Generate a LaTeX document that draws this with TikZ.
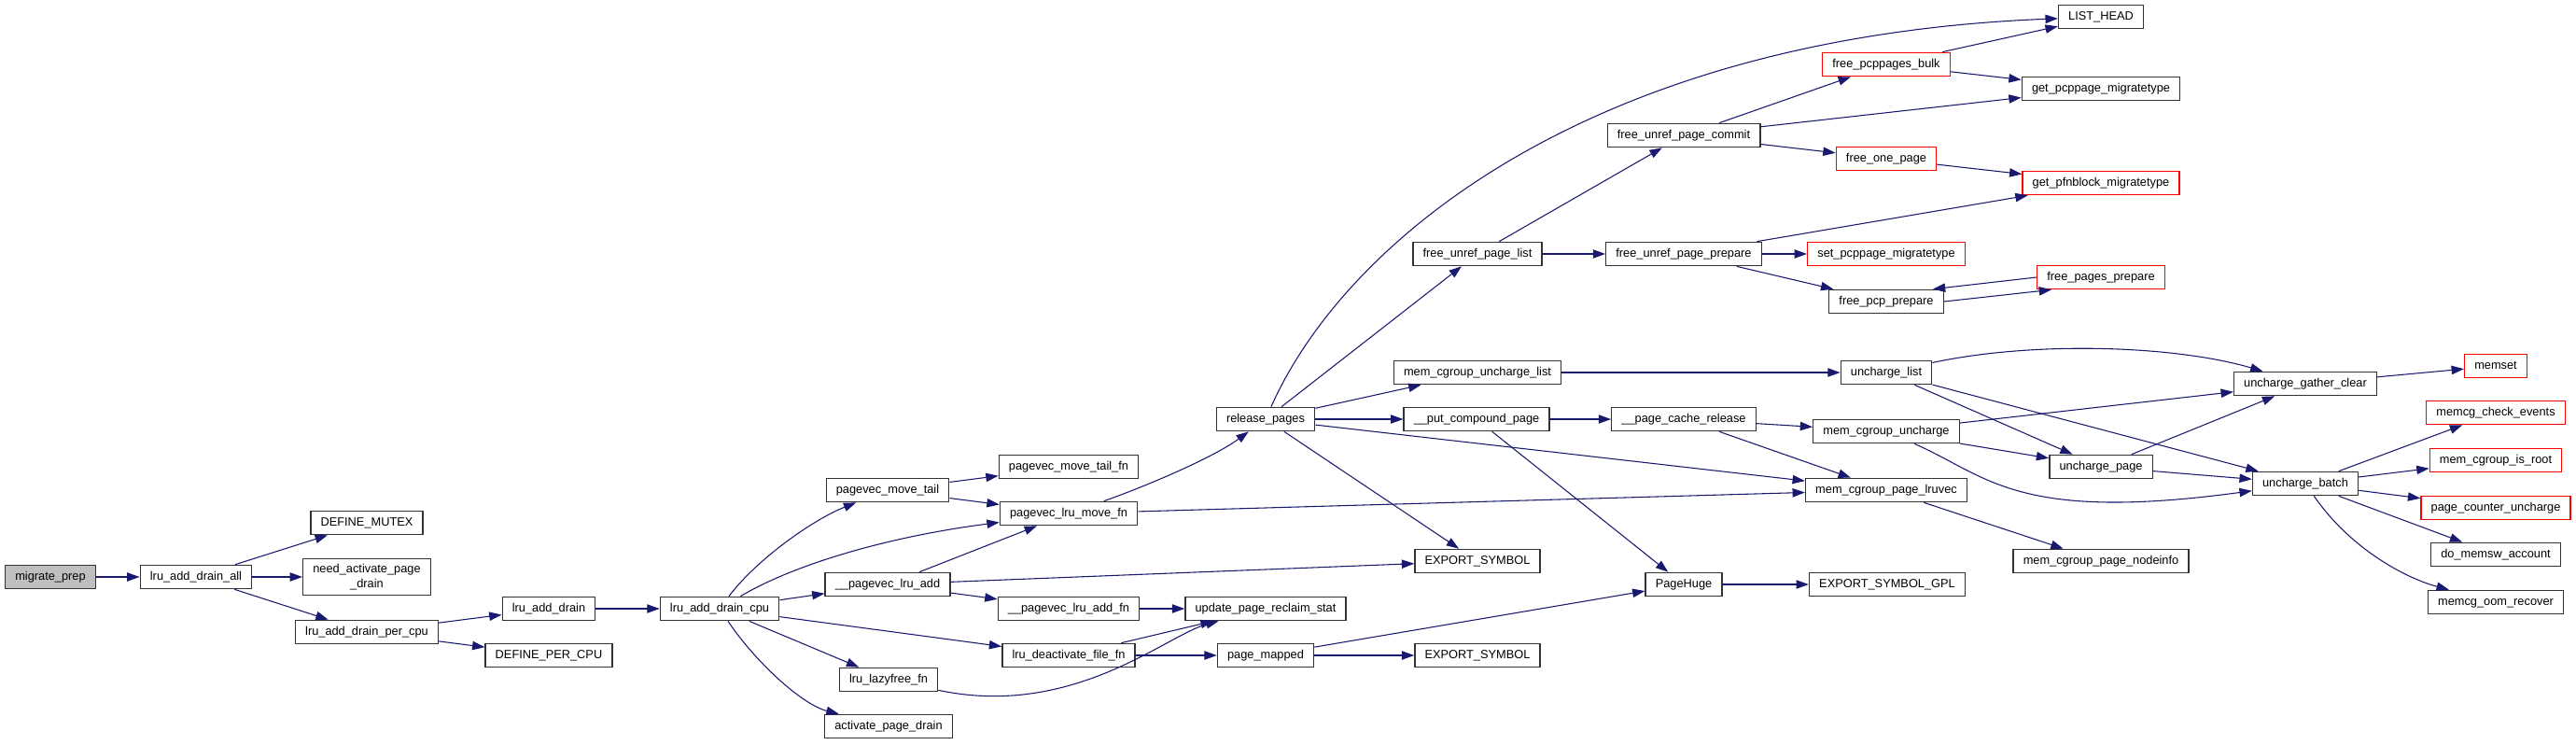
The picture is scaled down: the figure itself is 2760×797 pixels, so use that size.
\documentclass[tikz,border=0pt]{standalone}
\usepackage{fontspec}
\setmainfont{Liberation Sans}
\usetikzlibrary{arrows.meta}
\definecolor{edgeblue}{HTML}{191970}
\definecolor{nodegray}{HTML}{BFBFBF}

\begin{document}
\begin{tikzpicture}[x=0.75pt, y=-0.75pt,
  box/.style={draw=black!80, line width=1pt, fill=white, minimum height=19pt,
              inner xsep=8pt, inner ysep=2pt, text height=7pt, text depth=2.2pt,
              font=\fontsize{9.6}{11.5}\selectfont},
  redbox/.style={box, draw=red},
  arr/.style={-{Triangle[length=10pt,width=7pt]}, draw=edgeblue, line width=0.8pt}
]
\useasboundingbox (0,0) rectangle (2760,797);

% callers on the left
\node[box, fill=nodegray] (mprep) at (54,618) {migrate\_prep};
\node[box] (drainall) at (210,618) {lru\_add\_drain\_all};
\node[box] (defmutex) at (393,560) {DEFINE\_MUTEX};
\node[box, align=center, minimum height=29pt, text height={}, text depth={}] (needact) at (393,618) {need\_activate\_page\\\_drain};
\node[box] (drainpcpu) at (393,677) {lru\_add\_drain\_per\_cpu};
\node[box] (drain) at (588,652) {lru\_add\_drain};
\node[box] (defpcpu) at (588,702) {DEFINE\_PER\_CPU};
\node[box] (draincpu) at (771,652) {lru\_add\_drain\_cpu};

% pagevec helpers
\node[box] (pvmt) at (951,525) {pagevec\_move\_tail};
\node[box] (pvla) at (951,626) {\_\_pagevec\_lru\_add};
\node[box] (lazyfree) at (952,728) {lru\_lazyfree\_fn};
\node[box] (actdrain) at (952,778) {activate\_page\_drain};
\node[box] (pvmtfn) at (1145,500) {pagevec\_move\_tail\_fn};
\node[box] (pvlmf) at (1145,550) {pagevec\_lru\_move\_fn};
\node[box] (pvlafn) at (1145,652) {\_\_pagevec\_lru\_add\_fn};
\node[box] (lrudeact) at (1145,702) {lru\_deactivate\_file\_fn};
\node[box] (relpages) at (1356,449) {release\_pages};
\node[box] (uprs) at (1356,652) {update\_page\_reclaim\_stat};
\node[box] (pgmapped) at (1356,702) {page\_mapped};

% release_pages callees
\node[box] (fupl) at (1583,272) {free\_unref\_page\_list};
\node[box] (mcul) at (1583,399) {mem\_cgroup\_uncharge\_list};
\node[box] (putcp) at (1582,449) {\_\_put\_compound\_page};
\node[box] (exp1) at (1583,601) {EXPORT\_SYMBOL};
\node[box] (exp2) at (1583,702) {EXPORT\_SYMBOL};
\node[box] (fupc) at (1804,145) {free\_unref\_page\_commit};
\node[box] (fupp) at (1804,272) {free\_unref\_page\_prepare};
\node[box] (pcrel) at (1804,449) {\_\_page\_cache\_release};
\node[box] (phuge) at (1804,626) {PageHuge};
\node[redbox] (fpb) at (2021,69) {free\_pcppages\_bulk};
\node[redbox] (fop) at (2021,170) {free\_one\_page};
\node[redbox] (spm) at (2021,272) {set\_pcppage\_migratetype};
\node[box] (fpcp) at (2021,323) {free\_pcp\_prepare};
\node[box] (unlist) at (2021,399) {uncharge\_list};
\node[box] (mcun) at (2021,462) {mem\_cgroup\_uncharge};
\node[box] (mcpl) at (2021,525) {mem\_cgroup\_page\_lruvec};
\node[box] (expgpl) at (2022,626) {EXPORT\_SYMBOL\_GPL};
\node[box] (listhead) at (2251,18) {LIST\_HEAD};
\node[box] (gpm) at (2251,95) {get\_pcppage\_migratetype};
\node[redbox] (gpfm) at (2251,196) {get\_pfnblock\_migratetype};
\node[redbox] (fpgp) at (2251,297) {free\_pages\_prepare};
\node[box] (unpage) at (2251,500) {uncharge\_page};
\node[box] (mcpn) at (2251,601) {mem\_cgroup\_page\_nodeinfo};
\node[box] (ugc) at (2470,411) {uncharge\_gather\_clear};
\node[box] (unbatch) at (2470,518) {uncharge\_batch};
\node[redbox] (memset) at (2674,392) {memset};
\node[redbox] (mce) at (2674,442) {memcg\_check\_events};
\node[redbox] (mcir) at (2674,493) {mem\_cgroup\_is\_root};
\node[redbox] (pcu) at (2674,544) {page\_counter\_uncharge};
\node[box] (dma) at (2674,594) {do\_memsw\_account};
\node[box] (mor) at (2674,645) {memcg\_oom\_recover};

% calls
\draw[arr] (mprep) -- (drainall);
\draw[arr] (drainall) -- (defmutex);
\draw[arr] (drainall) -- (needact);
\draw[arr] (drainall) -- (drainpcpu);
\draw[arr] (drainpcpu) -- (drain);
\draw[arr] (drainpcpu) -- (defpcpu);
\draw[arr] (drain) -- (draincpu);
\draw[arr] (draincpu) .. controls (810,600) and (870,557) .. (pvmt);
\draw[arr] (draincpu) .. controls (850,605) and (950,575) .. (pvlmf);
\draw[arr] (draincpu) -- (pvla);
\draw[arr] (draincpu) -- (lrudeact);
\draw[arr] (draincpu) -- (lazyfree);
\draw[arr] (draincpu) .. controls (810,710) and (860,755) .. (actdrain);
\draw[arr] (pvmt) -- (pvmtfn);
\draw[arr] (pvmt) -- (pvlmf);
\draw[arr] (pvla) -- (pvlmf);
\draw[arr] (pvla) -- (pvlafn);
\draw[arr] (pvla) -- (exp1);
\draw[arr] (pvlafn) -- (uprs);
\draw[arr] (lrudeact) -- (uprs);
\draw[arr] (lrudeact) -- (pgmapped);
\draw[arr] (lazyfree) .. controls (1150,770) and (1250,680) .. (uprs);
\draw[arr] (pvlmf) .. controls (1230,520) and (1300,490) .. (relpages);
\draw[arr] (pvlmf) -- (mcpl);
\draw[arr] (relpages) .. controls (1440,260) and (1700,40) .. (listhead);
\draw[arr] (relpages) -- (fupl);
\draw[arr] (relpages) -- (mcul);
\draw[arr] (relpages) -- (putcp);
\draw[arr] (relpages) -- (mcpl);
\draw[arr] (relpages) -- (exp1);
\draw[arr] (pgmapped) -- (phuge);
\draw[arr] (pgmapped) -- (exp2);
\draw[arr] (fupl) -- (fupc);
\draw[arr] (fupl) -- (fupp);
\draw[arr] (fupc) -- (fpb);
\draw[arr] (fupc) -- (gpm);
\draw[arr] (fupc) -- (fop);
\draw[arr] (fupp) -- (gpfm);
\draw[arr] (fupp) -- (spm);
\draw[arr] (fupp) -- (fpcp);
\draw[arr] (fpb) -- (listhead);
\draw[arr] (fpb) -- (gpm);
\draw[arr] (fop) -- (gpfm);
\draw[arr] (fpcp.east) -- ([xshift=12pt]fpgp.south west);
\draw[arr] (fpgp.west) -- ([xshift=-9pt]fpcp.north east);
\draw[arr] (mcul) -- (unlist);
\draw[arr] (unlist) .. controls (2180,365) and (2330,370) .. (ugc);
\draw[arr] (unlist) -- (unpage);
\draw[arr] (unlist) -- (unbatch);
\draw[arr] (putcp) -- (pcrel);
\draw[arr] (putcp) -- (phuge);
\draw[arr] (pcrel) -- (mcun);
\draw[arr] (pcrel) -- (mcpl);
\draw[arr] (mcun) -- (ugc);
\draw[arr] (mcun) -- (unpage);
\draw[arr] (mcun) .. controls (2130,510) and (2160,560) .. (unbatch);
\draw[arr] (mcpl) -- (mcpn);
\draw[arr] (phuge) -- (expgpl);
\draw[arr] (unpage) -- (ugc);
\draw[arr] (unpage) -- (unbatch);
\draw[arr] (ugc) -- (memset);
\draw[arr] (unbatch) -- (mce);
\draw[arr] (unbatch) -- (mcir);
\draw[arr] (unbatch) -- (pcu);
\draw[arr] (unbatch) -- (dma);
\draw[arr] (unbatch) .. controls (2520,590) and (2580,620) .. (mor);
\end{tikzpicture}
\end{document}
